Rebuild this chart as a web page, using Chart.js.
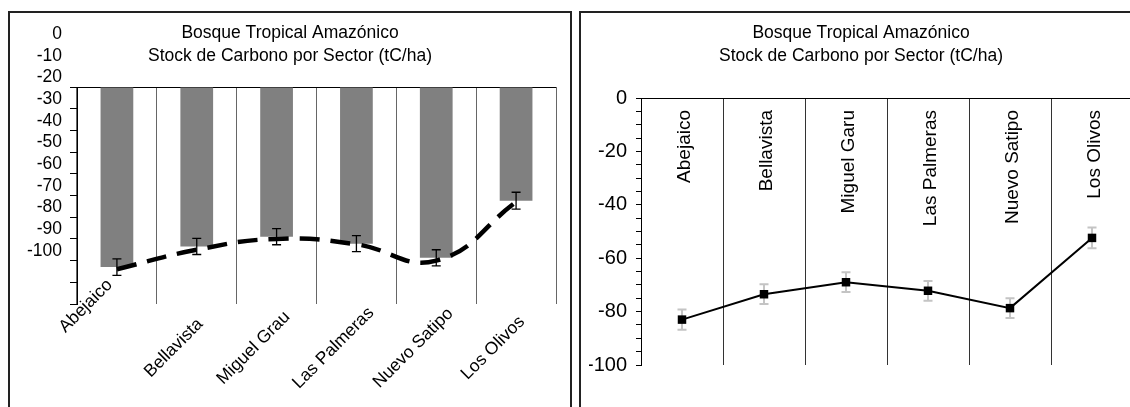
<!DOCTYPE html>
<html>
<head>
<meta charset="utf-8">
<script src="https://cdn.jsdelivr.net/npm/chart.js@4/dist/chart.umd.min.js"></script>
<style>
  html, body { margin: 0; padding: 0; background: #fff; overflow: hidden; width: 1130px; height: 407px; }
  .panel { position: absolute; border: 2px solid #222; box-sizing: border-box; }
  canvas { position: absolute; }
</style>
</head>
<body>
<div class="panel" style="left:8px; top:11px; width:564px; height:420px;"></div>
<div class="panel" style="left:579px; top:11px; width:600px; height:420px;"></div>
<canvas id="left" width="560" height="394" style="left:10px; top:13px;"></canvas>
<canvas id="right" width="560" height="394" style="left:581px; top:13px;"></canvas>
<script>
// ---------- data ----------
const categories = ['Abejaico', 'Bellavista', 'Miguel Grau', 'Las Palmeras', 'Nuevo Satipo', 'Los Olivos'];
const categoriesRight = ['Abejaico', 'Bellavista', 'Miguel Garu', 'Las Palmeras', 'Nuevo Satipo', 'Los Olivos'];
const carbonStock = [-83, -73.5, -69, -72.2, -78.7, -52.4];
const stockError = [3.8, 3.7, 3.7, 3.7, 3.7, 3.9];
const trendValues = [-84, -75, -70, -72.5, -80, -53];
const titleLines = ['Bosque Tropical Amazónico', 'Stock de Carbono por Sector (tC/ha)'];
const yMin = -100;
const yMax = 0;
const leftTickStep = 10;
const rightTickStep = 5;
const rightLabelStep = 20;

// ---------- styling ----------
const FONT = "'Liberation Sans', Arial, Helvetica, sans-serif";

function errorBars(id, datasetIndex, color, width, cap, hook) {
  const draw = (chart) => {
    const { ctx } = chart;
    const x = chart.scales.x, y = chart.scales.y;
    const ds = chart.data.datasets[datasetIndex];
    ctx.save();
    ctx.strokeStyle = color;
    ctx.lineWidth = width;
    ds.data.forEach((v, i) => {
      const e = ds.errors[i];
      const px = x.getPixelForValue(i);
      const t = y.getPixelForValue(v + e);
      const b = y.getPixelForValue(v - e);
      ctx.beginPath();
      ctx.moveTo(px, t); ctx.lineTo(px, b);
      ctx.moveTo(px - cap, t); ctx.lineTo(px + cap, t);
      ctx.moveTo(px - cap, b); ctx.lineTo(px + cap, b);
      ctx.stroke();
    });
    ctx.restore();
  };
  const p = { id };
  p[hook] = (chart, args) => { if (args.index === datasetIndex) draw(chart); };
  return p;
}

// category labels rotated 45 degrees and centred (Chart.js forces right alignment for rotated ticks)
const centredRotatedLabels = {
  id: 'centredRotatedLabels',
  afterDraw(chart, args, opts) {
    const { ctx, chartArea } = chart;
    const x = chart.scales.x;
    ctx.save();
    ctx.font = opts.size + 'px ' + FONT;
    ctx.fillStyle = '#000';
    ctx.textAlign = 'center';
    ctx.textBaseline = 'middle';
    chart.data.labels.forEach((lab, i) => {
      const n = (opts.nudge && opts.nudge[i]) || { dx: 0, dy: 0 };
      const px = x.getPixelForValue(i) + opts.dx + n.dx;
      const py = chartArea.bottom + opts.dy + n.dy;
      ctx.save();
      ctx.translate(px, py);
      ctx.rotate(-Math.PI / 4);
      ctx.fillText(lab, 0, 0);
      ctx.restore();
    });
    ctx.restore();
  }
};

const zeroLineColor = (c) => (c.tick && c.tick.value === 0) ? '#000' : 'rgba(0,0,0,0)';

const titleOpts = (bottomPad) => ({
  display: true,
  text: titleLines,
  color: '#000',
  font: { family: FONT, size: 17.5, weight: 'normal', lineHeight: 1.3 },
  padding: { top: 9, bottom: bottomPad }
});

// ---------- left chart: bars ----------
new Chart(document.getElementById('left'), {
  type: 'bar',
  data: {
    labels: categories,
    datasets: [
      {
        type: 'line',
        data: trendValues,
        borderColor: '#000',
        borderWidth: 4.5,
        borderDash: [20, 11],
        borderCapStyle: 'butt',
        tension: 0.45,
        pointRadius: 0,
        fill: false,
        order: 0
      },
      {
        type: 'bar',
        data: carbonStock,
        errors: stockError,
        backgroundColor: '#808080',
        borderWidth: 0,
        categoryPercentage: 1,
        barPercentage: 0.41,
        order: 1
      }
    ]
  },
  options: {
    responsive: false,
    animation: false,
    devicePixelRatio: 1,
    layout: { padding: { left: 14, right: 14, top: 0, bottom: 0 } },
    plugins: {
      legend: { display: false },
      tooltip: { enabled: false },
      title: titleOpts(19.5),
      centredRotatedLabels: { size: 17.5, dx: -23, dy: 44, nudge: { 0: { dx: -8, dy: -42 } } }
    },
    scales: {
      x: {
        grid: { offset: true, drawTicks: false, color: '#666', lineWidth: 1 },
        border: { display: false },
        ticks: { display: false },
        afterFit: (s) => { s.height = 103; }
      },
      y: {
        min: yMin, max: yMax,
        grid: { drawOnChartArea: true, color: zeroLineColor, tickColor: '#000', tickLength: 7 },
        border: { color: '#000', width: 1 },
        ticks: {
          stepSize: leftTickStep, autoSkip: false, labelOffset: -53, padding: 8,
          color: '#000', font: { family: FONT, size: 17.5 }
        },
        afterFit: (s) => { s.width = 53; }
      }
    }
  },
  plugins: [errorBars('errLeft', 1, '#000', 1.3, 4.5, 'afterDatasetDraw'), centredRotatedLabels]
});

// ---------- right chart: line ----------
new Chart(document.getElementById('right'), {
  type: 'line',
  data: {
    labels: categoriesRight,
    datasets: [
      {
        data: carbonStock,
        errors: stockError,
        borderColor: '#000',
        borderWidth: 2,
        pointStyle: 'rect',
        pointRadius: 6,
        pointBackgroundColor: '#000',
        pointBorderColor: '#000',
        pointBorderWidth: 0,
        tension: 0,
        fill: false
      }
    ]
  },
  options: {
    responsive: false,
    animation: false,
    devicePixelRatio: 1,
    layout: { padding: { left: 8, right: 8, top: 0, bottom: 0 } },
    plugins: {
      legend: { display: false },
      tooltip: { enabled: false },
      title: titleOpts(30.5)
    },
    scales: {
      x: {
        offset: true,
        grid: { offset: true, drawTicks: false, color: '#333', lineWidth: 1 },
        border: { display: false },
        ticks: {
          autoSkip: false, minRotation: 90, maxRotation: 90, mirror: true,
          padding: 255, labelOffset: 26,
          color: '#000', font: { family: FONT, size: 19 }
        },
        afterFit: (s) => { s.height = 42; s.paddingLeft = 0; s.paddingRight = 0; }
      },
      y: {
        min: yMin, max: yMax,
        grid: { drawOnChartArea: true, color: zeroLineColor, tickColor: '#000', tickLength: 5 },
        border: { color: '#000', width: 1 },
        ticks: {
          stepSize: rightTickStep, autoSkip: false, padding: 9,
          color: '#000', font: { family: FONT, size: 20 },
          callback: (v) => (v % rightLabelStep === 0 ? String(v) : '')
        },
        afterFit: (s) => { s.width = 52; s.paddingTop = 0; s.paddingBottom = 0; }
      }
    }
  },
  plugins: [errorBars('errRight', 0, '#c4c4c4', 2, 4.5, 'beforeDatasetDraw')]
});
</script>
</body>
</html>
